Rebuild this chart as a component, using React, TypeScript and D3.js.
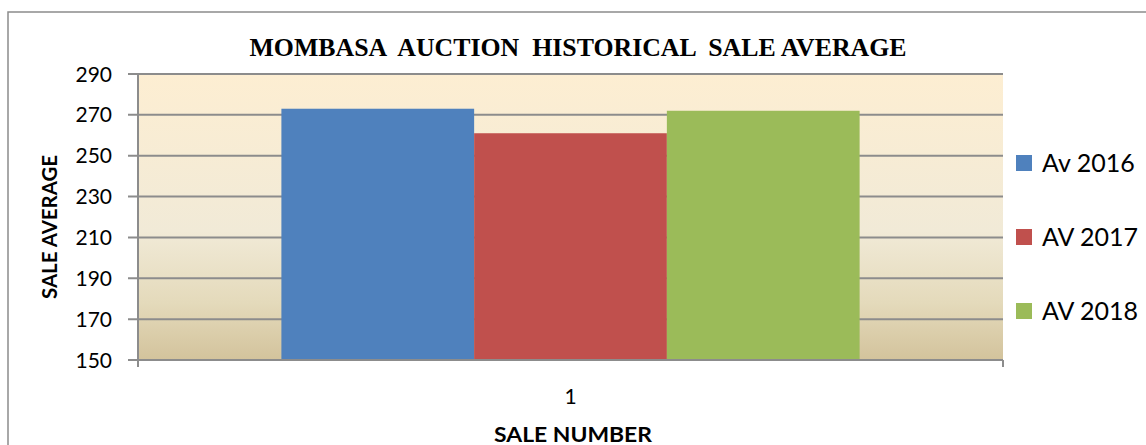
import React from "react";
import { scaleLinear, scaleBand } from "d3";

// data
const categories = ["1"];
const seriesNames = ["Av 2016", "AV 2017", "AV 2018"];
const seriesValues = [273, 261, 272];
const seriesColors = ["#4f81bd", "#c0504d", "#9bbb59"];
const yTicks = [150, 170, 190, 210, 230, 250, 270, 290];

const W = 1146;
const H = 445;
const plot = { left: 138, right: 1003, top: 74, bottom: 360 };
const axisGray = "#8c8c8c";
const sans = "Lato, 'Open Sans', sans-serif";

const App = () => {
  const y = scaleLinear().domain([150, 290]).range([plot.bottom, plot.top]);
  const x = scaleBand().domain(categories).range([plot.left, plot.right]).paddingOuter(0.248);
  const inner = scaleBand().domain(seriesNames).range([0, x.bandwidth()]);

  return (
    <svg width={W} height={H} style={{ position: "absolute", left: 0, top: 0, background: "#fff" }}>
      <defs>
        <linearGradient id="bg" x1="0" y1="0" x2="0" y2="1">
          <stop offset="0" stopColor="#fdeed2" />
          <stop offset="0.55" stopColor="#f1ead7" />
          <stop offset="0.8" stopColor="#e4dabb" />
          <stop offset="1" stopColor="#d3c39c" />
        </linearGradient>
      </defs>
      {/* outer frame */}
      <rect x={8} y={12} width={W + 10} height={H} fill="#fff" stroke={axisGray} strokeWidth={1.5} />

      <text x={578} y={56} textAnchor="middle" fontFamily="'Liberation Serif', serif" fontWeight="bold"
        fontSize={25} textLength={657} lengthAdjust="spacingAndGlyphs" fill="#000" style={{ whiteSpace: "pre" }}>
        {"MOMBASA  AUCTION  HISTORICAL  SALE AVERAGE"}
      </text>

      <rect x={plot.left} y={plot.top} width={plot.right - plot.left} height={plot.bottom - plot.top} fill="url(#bg)" />

      {yTicks.map((t) => (
        <g key={t}>
          <line x1={plot.left - 10} x2={plot.right} y1={y(t)} y2={y(t)} stroke={axisGray} strokeWidth={2} />
          <text x={112} y={y(t)} dy="0.36em" textAnchor="end" fontFamily={sans} fontSize={21} fill="#000">{t}</text>
        </g>
      ))}

      {categories.map((c) =>
        seriesNames.map((s, i) => (
          <rect key={c + s} x={(x(c) ?? 0) + (inner(s) ?? 0)} y={y(seriesValues[i])}
            width={inner.bandwidth()} height={plot.bottom - y(seriesValues[i])} fill={seriesColors[i]} />
        ))
      )}

      {/* axes */}
      <line x1={plot.left} x2={plot.left} y1={plot.top} y2={plot.bottom + 7} stroke={axisGray} strokeWidth={2} />
      <line x1={plot.left} x2={plot.right} y1={plot.bottom} y2={plot.bottom} stroke={axisGray} strokeWidth={2} />
      <line x1={plot.right} x2={plot.right} y1={plot.bottom} y2={plot.bottom + 7} stroke={axisGray} strokeWidth={2} />

      {categories.map((c) => (
        <text key={c} x={(x(c) ?? 0) + x.bandwidth() / 2} y={404} textAnchor="middle" fontFamily={sans} fontSize={21} fill="#000">{c}</text>
      ))}
      <text x={573} y={442} textAnchor="middle" fontFamily={sans} fontWeight="bold" fontSize={21}
        textLength={158} lengthAdjust="spacingAndGlyphs" fill="#000">SALE NUMBER</text>
      <text transform="translate(57,227) rotate(-90)" textAnchor="middle" fontFamily={sans} fontWeight="bold" fontSize={21}
        textLength={144} lengthAdjust="spacingAndGlyphs" fill="#000">SALE AVERAGE</text>

      {seriesNames.map((s, i) => (
        <g key={s} transform={`translate(1016,${155 + i * 74})`}>
          <rect width={16} height={16} fill={seriesColors[i]} />
          <text x={26} y={17} fontFamily={sans} fontSize={25} fill="#000">{s}</text>
        </g>
      ))}
    </svg>
  );
};

export default App;
